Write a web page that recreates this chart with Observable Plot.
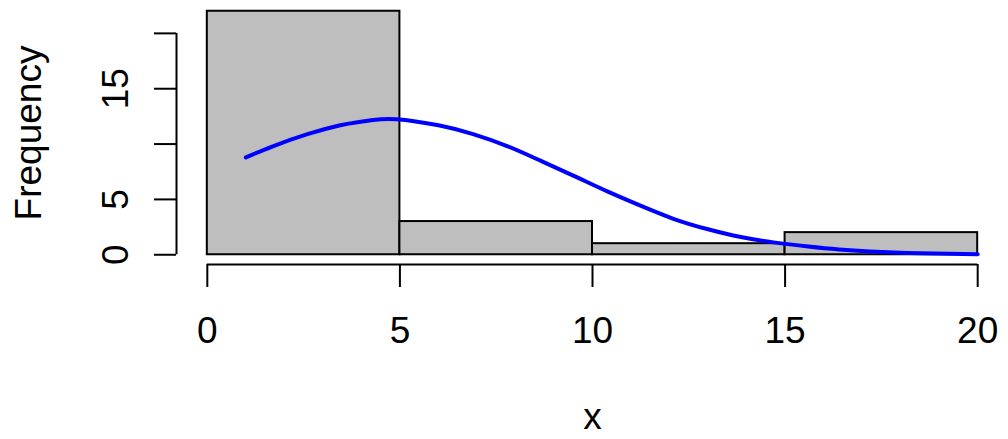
<!DOCTYPE html>
<html>
<head>
<meta charset="utf-8">
<script src="https://cdn.jsdelivr.net/npm/d3@7"></script>
<script src="https://cdn.jsdelivr.net/npm/@observablehq/plot@0.6"></script>
<style>
  html, body { margin: 0; padding: 0; background: #fff; }
</style>
</head>
<body>
<div id="chart"></div>
<script>
// Histogram bins and counts
const binStart = [0, 5, 10, 15];
const binEnd = [5, 10, 15, 20];
const counts = [22, 3, 1, 2];

// Fitted curve
const curveX = [1.0, 1.7, 2.6, 3.45, 3.9, 4.3, 4.9, 6.0, 6.9, 7.8, 8.65, 9.5, 10.4, 11.2, 12.1, 13.0, 13.85, 14.7, 15.6, 16.4, 17.2, 18.5, 20];
const curveY = [8.8, 9.8, 10.9, 11.7, 11.98, 12.17, 12.25, 11.7, 10.9, 9.8, 8.5, 7.15, 5.7, 4.5, 3.25, 2.3, 1.6, 1.12, 0.75, 0.48, 0.3, 0.14, 0.05];

// Axis ticks and labels
const xTicks = [0, 5, 10, 15, 20];
const yTicks = [0, 5, 10, 15, 20];
const yTickLabels = [0, 5, 15];
const xTitle = "x";
const yTitle = "Frequency";

const bins = binStart.map((s, i) => ({x1: s, x2: binEnd[i], count: counts[i]}));
const curve = curveX.map((x, i) => ({x, y: curveY[i]}));

const xExt = d3.extent(xTicks);
const yMax = d3.max(counts);
const xPad = (xExt[1] - xExt[0]) * 0.04;
const yPad = yMax * 0.04;
const xDomain = [xExt[0] - xPad, xExt[1] + xPad];
const yDomain = [-yPad, yMax + yPad];
const yExt = d3.extent(yTicks);

const font = "'Liberation Sans', Arial, sans-serif";
const fs = 37;

const chart = Plot.plot({
  width: 1008,
  height: 439,
  marginLeft: 176,
  marginRight: 0,
  marginTop: 1,
  marginBottom: 175,
  style: {fontFamily: font, fontSize: fs + "px", background: "#fff", color: "#000"},
  x: {domain: xDomain, axis: null},
  y: {domain: yDomain, axis: null},
  marks: [
    Plot.rectY(bins, {x1: "x1", x2: "x2", y1: 0, y2: "count", fill: "#BEBEBE", stroke: "#000", strokeWidth: 2, inset: 0}),
    Plot.line(curve, {x: "x", y: "y", stroke: "#0000FF", strokeWidth: 4, curve: "natural"}),
    // x axis
    Plot.ruleY([yDomain[0]], {x1: xExt[0], x2: xExt[1], stroke: "#000", strokeWidth: 2}),
    Plot.axisX(xTicks, {anchor: "bottom", tickSize: 23, tickFormat: () => "", stroke: "#000", strokeWidth: 2}),
    Plot.text(xTicks, {x: d => d, frameAnchor: "bottom", dy: 78, lineAnchor: "bottom", text: d => String(d), fontSize: fs, fill: "#000"}),
    // y axis
    Plot.ruleX([xDomain[0]], {y1: yExt[0], y2: yExt[1], stroke: "#000", strokeWidth: 2}),
    Plot.axisY(yTicks, {anchor: "left", tickSize: 22, tickFormat: () => "", stroke: "#000", strokeWidth: 2}),
    Plot.text(yTickLabels, {y: d => d, frameAnchor: "left", dx: -49, rotate: -90, lineAnchor: "bottom", textAnchor: "middle", text: d => String(d), fontSize: fs, fill: "#000"}),
    // titles
    Plot.text([xTitle], {frameAnchor: "bottom", dy: 164, lineAnchor: "bottom", text: d => d, fontSize: fs, fill: "#000"}),
    Plot.text([yTitle], {frameAnchor: "left", dx: -136, rotate: -90, lineAnchor: "bottom", textAnchor: "middle", text: d => d, fontSize: fs, fill: "#000"})
  ]
});
document.getElementById("chart").appendChild(chart);
</script>
</body>
</html>
